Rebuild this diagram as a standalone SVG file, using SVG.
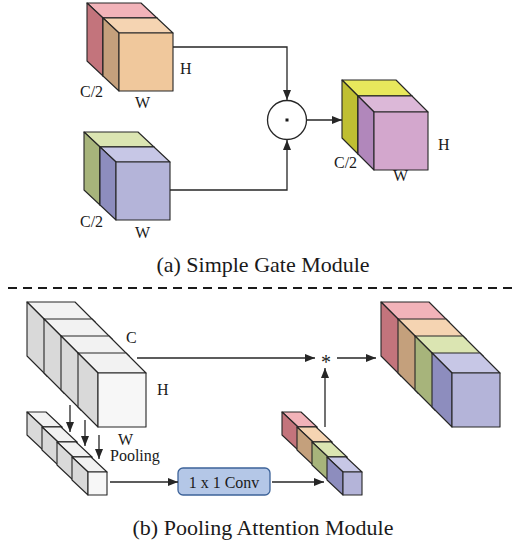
<svg xmlns="http://www.w3.org/2000/svg" width="515" height="554" viewBox="0 0 515 554">
  <defs>
    <marker id="arrow" markerUnits="userSpaceOnUse" markerWidth="10" markerHeight="8" refX="10" refY="4" orient="auto">
      <path d="M0,0 L10,4 L0,8 z" fill="#262626"/>
    </marker>
  </defs>
  <style>
    .edge { stroke: #262626; stroke-width: 1.1; stroke-linejoin: round; }
    .wire { fill: none; stroke: #262626; stroke-width: 1.3; }
    .lbl { font-family: "Liberation Serif", "Times New Roman", serif; font-size: 16px; fill: #1a1a1a; }
    .cap { font-family: "Liberation Serif", "Times New Roman", serif; font-size: 22px; fill: #1a1a1a; text-anchor: middle; }
    .pink-t { fill: #f2b3b9; } .pink-s { fill: #c3747c; } .pink-f { fill: #eaa1a8; }
    .orng-t { fill: #f5d4b2; } .orng-s { fill: #c4a07c; } .orng-f { fill: #f0c89c; }
    .grn-t { fill: #dbe5b2; } .grn-s { fill: #a7b47b; } .grn-f { fill: #cfdc9e; }
    .prp-t { fill: #c7c7e6; } .prp-s { fill: #8d8dbe; } .prp-f { fill: #b4b4d9; }
    .yel-t { fill: #e8e85c; } .yel-s { fill: #bfbf32; } .yel-f { fill: #dddd40; }
    .mag-t { fill: #dcb8d8; } .mag-s { fill: #b187bb; } .mag-f { fill: #d3a7cd; }
    .gry-t { fill: #f2f2f2; } .gry-s { fill: #d9d9d9; } .gry-f { fill: #f7f7f7; }
  </style>
  <rect width="515" height="554" fill="#ffffff"/>

  <!-- (a) first half-channel feature: pink behind orange -->
  <g id="feat-a1">
    <polygon class="pink-t edge" points="87,3 141,3 157,18 103,18"/>
    <polygon class="pink-s edge" points="87,3 103,18 103,76 87,61"/>
    <rect class="pink-f edge" x="103" y="18" width="54" height="58"/>
    <polygon class="orng-t edge" points="103,18 157,18 173,33 119,33"/>
    <polygon class="orng-s edge" points="103,18 119,33 119,91 103,76"/>
    <rect class="orng-f edge" x="119" y="33" width="54" height="58"/>
    <text class="lbl" x="180" y="74">H</text>
    <text class="lbl" x="80" y="97">C/2</text>
    <text class="lbl" x="135" y="108">W</text>
  </g>

  <!-- (a) second half-channel feature: green behind purple -->
  <g id="feat-a2">
    <polygon class="grn-t edge" points="84,132 138,132 154,147 100,147"/>
    <polygon class="grn-s edge" points="84,132 100,147 100,205 84,190"/>
    <rect class="grn-f edge" x="100" y="147" width="54" height="58"/>
    <polygon class="prp-t edge" points="100,147 154,147 170,162 116,162"/>
    <polygon class="prp-s edge" points="100,147 116,162 116,220 100,205"/>
    <rect class="prp-f edge" x="116" y="162" width="54" height="58"/>
    <text class="lbl" x="80" y="227">C/2</text>
    <text class="lbl" x="135" y="238">W</text>
  </g>

  <!-- element-wise product -->
  <g id="gate-op">
    <circle cx="287" cy="120" r="19.5" fill="#ffffff" stroke="#262626" stroke-width="1.3"/>
    <rect x="285.5" y="118.5" width="3" height="3" fill="#1a1a1a"/>
  </g>

  <!-- (a) output feature: yellow behind magenta -->
  <g id="feat-a-out">
    <polygon class="yel-t edge" points="342,80 396,80 412,96 358,96"/>
    <polygon class="yel-s edge" points="342,80 358,96 358,154 342,138"/>
    <rect class="yel-f edge" x="358" y="96" width="54" height="58"/>
    <polygon class="mag-t edge" points="358,96 412,96 428,112 374,112"/>
    <polygon class="mag-s edge" points="358,96 374,112 374,170 358,154"/>
    <rect class="mag-f edge" x="374" y="112" width="54" height="58"/>
    <text class="lbl" x="438" y="150">H</text>
    <text class="lbl" x="334" y="168">C/2</text>
    <text class="lbl" x="393" y="181">W</text>
  </g>

  <text class="cap" x="263" y="272">(a) Simple Gate Module</text>

  <line x1="8" y1="288" x2="515" y2="288" stroke="#1a1a1a" stroke-width="2" stroke-dasharray="9,6"/>

  <!-- (b) input feature: four stacked gray cubes -->
  <g id="feat-b-in">
    <polygon class="gry-t edge" points="27,302 75,302 95,322 47,322"/>
    <polygon class="gry-s edge" points="27,302 47,322 47,376 27,356"/>
    <rect class="gry-f edge" x="47" y="322" width="48" height="54"/>
    <polygon class="gry-t edge" points="44,319 92,319 112,339 64,339"/>
    <polygon class="gry-s edge" points="44,319 64,339 64,393 44,373"/>
    <rect class="gry-f edge" x="64" y="339" width="48" height="54"/>
    <polygon class="gry-t edge" points="61,336 109,336 129,356 81,356"/>
    <polygon class="gry-s edge" points="61,336 81,356 81,410 61,390"/>
    <rect class="gry-f edge" x="81" y="356" width="48" height="54"/>
    <polygon class="gry-t edge" points="78,353 126,353 146,373 98,373"/>
    <polygon class="gry-s edge" points="78,353 98,373 98,427 78,407"/>
    <rect class="gry-f edge" x="98" y="373" width="48" height="54"/>
    <text class="lbl" x="126" y="343">C</text>
    <text class="lbl" x="157" y="395">H</text>
    <text class="lbl" x="118" y="445">W</text>
  </g>

  <!-- (b) pooled descriptor: four small gray cubes -->
  <g id="feat-b-pool">
    <polygon class="gry-t edge" points="27,412 46,412 62,427 43,427"/>
    <polygon class="gry-s edge" points="27,412 43,427 43,450 27,435"/>
    <rect class="gry-f edge" x="43" y="427" width="19" height="23"/>
    <polygon class="gry-t edge" points="42,427 61,427 77,442 58,442"/>
    <polygon class="gry-s edge" points="42,427 58,442 58,465 42,450"/>
    <rect class="gry-f edge" x="58" y="442" width="19" height="23"/>
    <polygon class="gry-t edge" points="57,442 76,442 92,457 73,457"/>
    <polygon class="gry-s edge" points="57,442 73,457 73,480 57,465"/>
    <rect class="gry-f edge" x="73" y="457" width="19" height="23"/>
    <polygon class="gry-t edge" points="72,457 91,457 107,472 88,472"/>
    <polygon class="gry-s edge" points="72,457 88,472 88,495 72,480"/>
    <rect class="gry-f edge" x="88" y="472" width="19" height="23"/>
    <text class="lbl" x="110" y="461">Pooling</text>
  </g>

  <!-- (b) 1x1 convolution -->
  <g id="conv">
    <rect x="178" y="468" width="92" height="27" rx="5" fill="#b4c7e7" stroke="#3d6399" stroke-width="1.3"/>
    <text class="lbl" x="224" y="488" text-anchor="middle" font-size="16.5">1 x 1 Conv</text>
  </g>

  <!-- (b) attention weights: four small coloured cubes -->
  <g id="feat-b-attn">
    <polygon class="pink-t edge" points="282,412 301,412 317,427 298,427"/>
    <polygon class="pink-s edge" points="282,412 298,427 298,450 282,435"/>
    <rect class="pink-f edge" x="298" y="427" width="19" height="23"/>
    <polygon class="orng-t edge" points="297,427 316,427 332,442 313,442"/>
    <polygon class="orng-s edge" points="297,427 313,442 313,465 297,450"/>
    <rect class="orng-f edge" x="313" y="442" width="19" height="23"/>
    <polygon class="grn-t edge" points="312,442 331,442 347,457 328,457"/>
    <polygon class="grn-s edge" points="312,442 328,457 328,480 312,465"/>
    <rect class="grn-f edge" x="328" y="457" width="19" height="23"/>
    <polygon class="prp-t edge" points="327,457 346,457 362,472 343,472"/>
    <polygon class="prp-s edge" points="327,457 343,472 343,495 327,480"/>
    <rect class="prp-f edge" x="343" y="472" width="19" height="23"/>
  </g>

  <!-- multiplication -->
  <g id="mul-op">
    <text x="326" y="369" text-anchor="middle" font-family="Liberation Serif, Times New Roman, serif" font-size="20" fill="#1a1a1a">*</text>
  </g>

  <!-- (b) output feature: four stacked coloured cubes -->
  <g id="feat-b-out">
    <polygon class="pink-t edge" points="381,302 429,302 449,322 401,322"/>
    <polygon class="pink-s edge" points="381,302 401,322 401,376 381,356"/>
    <rect class="pink-f edge" x="401" y="322" width="48" height="54"/>
    <polygon class="orng-t edge" points="398,319 446,319 466,339 418,339"/>
    <polygon class="orng-s edge" points="398,319 418,339 418,393 398,373"/>
    <rect class="orng-f edge" x="418" y="339" width="48" height="54"/>
    <polygon class="grn-t edge" points="415,336 463,336 483,356 435,356"/>
    <polygon class="grn-s edge" points="415,336 435,356 435,410 415,390"/>
    <rect class="grn-f edge" x="435" y="356" width="48" height="54"/>
    <polygon class="prp-t edge" points="432,353 480,353 500,373 452,373"/>
    <polygon class="prp-s edge" points="432,353 452,373 452,427 432,407"/>
    <rect class="prp-f edge" x="452" y="373" width="48" height="54"/>
  </g>

  <text class="cap" x="263" y="535">(b) Pooling Attention Module</text>

  <!-- connectors -->
  <g id="connectors">
    <polyline class="wire" points="173,47 287,47 287,100" marker-end="url(#arrow)"/>
    <polyline class="wire" points="170,190 287,190 287,140" marker-end="url(#arrow)"/>
    <line class="wire" x1="307" y1="120" x2="342" y2="120" marker-end="url(#arrow)"/>

    <line class="wire" x1="137" y1="358" x2="315" y2="358" marker-end="url(#arrow)"/>
    <line class="wire" x1="337" y1="358" x2="376" y2="358" marker-end="url(#arrow)"/>
    <line class="wire" x1="325" y1="427" x2="325" y2="368" marker-end="url(#arrow)"/>

    <line class="wire" x1="70" y1="405" x2="70" y2="432" marker-end="url(#arrow)"/>
    <line class="wire" x1="85" y1="420" x2="85" y2="446" marker-end="url(#arrow)"/>
    <line class="wire" x1="99" y1="435" x2="99" y2="459" marker-end="url(#arrow)"/>

    <line class="wire" x1="110" y1="482" x2="178" y2="482" marker-end="url(#arrow)"/>
    <line class="wire" x1="272" y1="482" x2="324" y2="482" marker-end="url(#arrow)"/>
  </g>
</svg>
